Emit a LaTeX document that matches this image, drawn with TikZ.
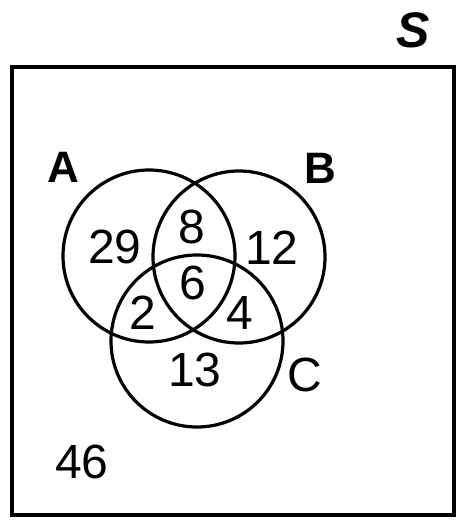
\documentclass[tikz,border=0pt]{standalone}
\usepackage{fontspec}
\setmainfont{Liberation Sans}
\usepackage{tikz}
\usetikzlibrary{positioning}
\tikzset{
  venn/.style={
    shape = circle,
    draw,
    line width = 3.2pt,
    minimum size = 172pt,
    inner sep = 0pt
  },
  region/.style={
    font = \fontsize{48}{52}\selectfont,
    inner sep = 0pt
  },
  setlabel/.style={
    font = \fontsize{44}{48}\selectfont\bfseries,
    inner sep = 0pt
  },
}

\begin{document}
\begin{tikzpicture}[x=1pt,y=-1pt]
    \useasboundingbox (0,0) rectangle (460,529);
    % universe
    \coordinate (sw) at (12,515);
    \coordinate (ne) at (454,67);
    \draw[line width=3.6pt] (sw) rectangle (ne);
    \node[font=\fontsize{50}{54}\selectfont\bfseries\itshape, inner sep=0pt] (S) at (413,30) {S};
    % the three sets
    \node[venn] (A) at (149,256) {};
    \node[venn] (B) at (239,257) {};
    \node[venn] (C) at (197,341) {};
    \node[setlabel] (lA) at (63,167) {A};
    \node[setlabel] (lB) at (320,168) {B};
    \node[setlabel, font=\fontsize{48}{52}\selectfont] (lC) at (305,375) {C};
    % counts
    \node[region] (nA) at (115,247) {29};
    \node[region] (nAB) at (192,227) {8};
    \node[region] (nB) at (272,248) {12};
    \node[region] (nABC) at (193,283) {6};
    \node[region] (nAC) at (143,313) {2};
    \node[region] (nBC) at (240,313) {4};
    \node[region] (nC) at (195,370) {13};
    \node[region] (nout) at (82,462) {46};
\end{tikzpicture}
\end{document}
